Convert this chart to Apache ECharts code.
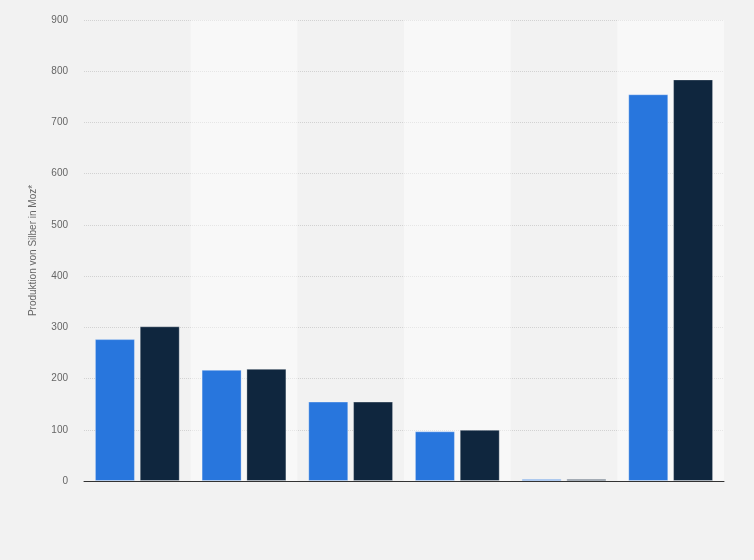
<!DOCTYPE html>
<html>
<head>
    <meta charset="utf-8">
    <title>Produktion von Silber</title>
    <script src="https://cdn.jsdelivr.net/npm/echarts@6/dist/echarts.min.js"></script>
    <style>
        html, body { margin: 0; padding: 0; background: #f2f2f2; }
    </style>
</head>
<body>
    <div id="main" style="width: 754px;height:560px;"></div>
    <script type="text/javascript">
        // x-Achse hat im Bild keine Beschriftung, daher nur Platzhalter
        var categories = ['A', 'B', 'C', 'D', 'E', 'F'];
        var seriesNames = ['Jahr 1', 'Jahr 2'];
        var valuesA = [277, 217, 155, 97, 4, 755];
        var valuesB = [302, 219, 155, 100, 4, 784];
        var yTicks = [0, 100, 200, 300, 400, 500, 600, 700, 800, 900];

        var myChart = echarts.init(document.getElementById('main'));

        var barBorder = {
            borderColor: 'rgba(255,255,255,0.3)',
            borderWidth: 1
        };

        var option = {
            backgroundColor: '#f2f2f2',
            animation: false,
            grid: {
                left: 84,
                right: 30,
                top: 20,
                bottom: 79
            },
            xAxis: {
                type: 'category',
                data: categories,
                axisLine: { lineStyle: { color: '#333', width: 1 } },
                axisTick: { show: false },
                axisLabel: { show: false },
                splitArea: {
                    show: true,
                    areaStyle: { color: ['rgba(0,0,0,0)', 'rgba(255,255,255,0.45)'] }
                }
            },
            yAxis: {
                type: 'value',
                min: yTicks[0],
                max: yTicks[yTicks.length - 1],
                interval: 100,
                name: 'Produktion von Silber in Moz*',
                nameLocation: 'middle',
                nameGap: 46,
                nameTextStyle: { color: '#666', fontSize: 10, fontFamily: 'Arial, Liberation Sans, sans-serif' },
                axisLine: { show: false },
                axisTick: { show: false },
                axisLabel: {
                    color: '#666',
                    fontSize: 10,
                    margin: 16,
                    fontFamily: 'Arial, Liberation Sans, sans-serif'
                },
                splitLine: {
                    lineStyle: { color: '#d2d2d2', type: [1, 1], width: 1 }
                }
            },
            series: [{
                name: seriesNames[0],
                type: 'bar',
                data: valuesA,
                barWidth: 40,
                barGap: '12%',
                itemStyle: Object.assign({ color: '#2876dd' }, barBorder)
            }, {
                name: seriesNames[1],
                type: 'bar',
                data: valuesB,
                barWidth: 40,
                itemStyle: Object.assign({ color: '#0f263e' }, barBorder)
            }]
        };
        myChart.setOption(option);
    </script>
</body>
</html>
